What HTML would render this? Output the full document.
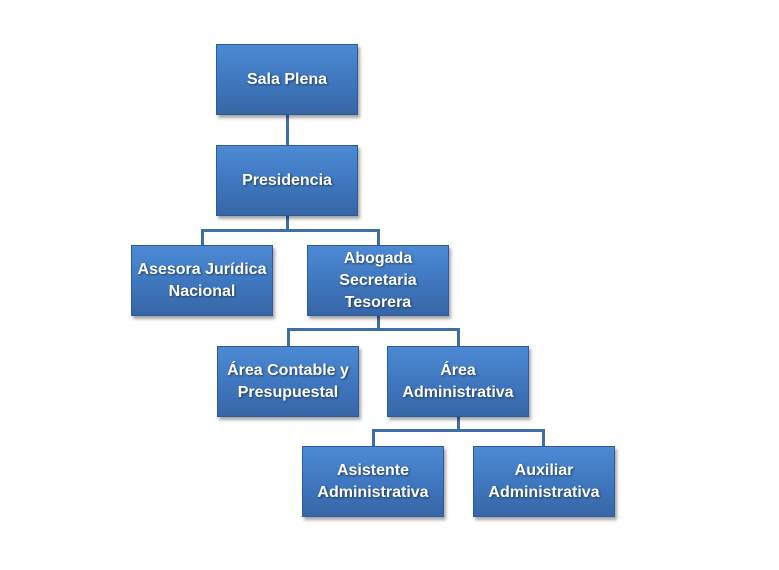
<!DOCTYPE html>
<html><head><style>
body{margin:0;width:779px;height:570px;background:#fff;position:relative;overflow:hidden;font-family:"Liberation Sans",Arial,sans-serif}
.b{position:absolute;width:142px;height:71px;box-sizing:border-box;background:linear-gradient(#4d8ad4,#3f78c0 50%,#3766a6);border:1px solid #2f5a93;box-shadow:2px 3px 3px rgba(0,0,0,.35);color:#fff;font-weight:bold;font-size:16px;line-height:22px;display:flex;align-items:center;justify-content:center;text-align:center;text-shadow:1px 1px 2px rgba(0,0,0,.5)}
.l{position:absolute;background:#3f6da6}
</style></head><body>
<div class="l" style="left:286px;top:114px;width:3px;height:31px"></div>
<div class="l" style="left:286px;top:215px;width:3px;height:16px"></div>
<div class="l" style="left:201px;top:229px;width:179px;height:3px"></div>
<div class="l" style="left:201px;top:229px;width:3px;height:16px"></div>
<div class="l" style="left:377px;top:229px;width:3px;height:16px"></div>
<div class="l" style="left:377px;top:316px;width:3px;height:14px"></div>
<div class="l" style="left:287px;top:328px;width:173px;height:3px"></div>
<div class="l" style="left:287px;top:328px;width:3px;height:18px"></div>
<div class="l" style="left:457px;top:328px;width:3px;height:18px"></div>
<div class="l" style="left:457px;top:416px;width:3px;height:15px"></div>
<div class="l" style="left:372px;top:429px;width:173px;height:3px"></div>
<div class="l" style="left:372px;top:429px;width:3px;height:17px"></div>
<div class="l" style="left:542px;top:429px;width:3px;height:17px"></div>
<div class="b" style="left:216px;top:44px">Sala Plena</div>
<div class="b" style="left:216px;top:145px">Presidencia</div>
<div class="b" style="left:131px;top:245px">Asesora Jurídica<br>Nacional</div>
<div class="b" style="left:307px;top:245px">Abogada<br>Secretaria<br>Tesorera</div>
<div class="b" style="left:217px;top:346px">Área Contable y<br>Presupuestal</div>
<div class="b" style="left:387px;top:346px">Área<br>Administrativa</div>
<div class="b" style="left:302px;top:446px">Asistente<br>Administrativa</div>
<div class="b" style="left:473px;top:446px">Auxiliar<br>Administrativa</div>
</body></html>
